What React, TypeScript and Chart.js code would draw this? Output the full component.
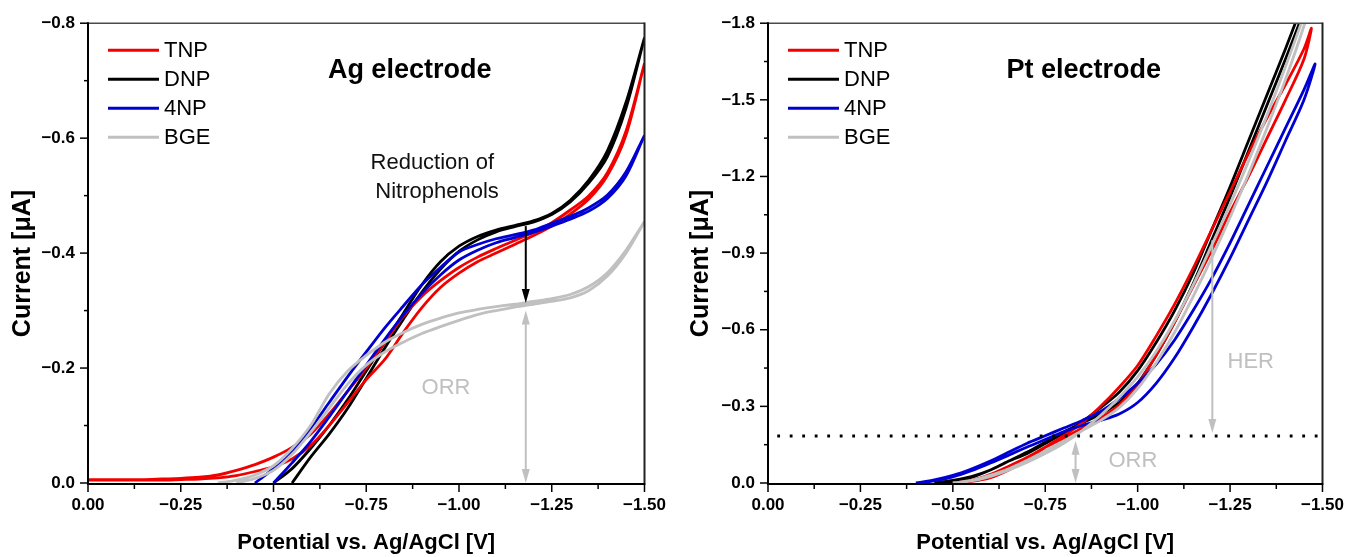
import React, { useEffect, useRef } from 'react';
import { Chart, registerables } from 'chart.js';

Chart.register(...registerables);

const FONT = "'Liberation Sans', Arial, Helvetica, sans-serif";

// Potential grid (V vs Ag/AgCl), shared by both panels
const POTENTIAL = [0, -0.05, -0.1, -0.15, -0.2, -0.25, -0.3, -0.35, -0.4, -0.45, -0.5, -0.55, -0.6, -0.65, -0.7, -0.75, -0.8, -0.85, -0.9, -0.95, -1.0, -1.05, -1.1, -1.15, -1.2, -1.25, -1.3, -1.35, -1.4, -1.45, -1.5];

// ---------- Ag electrode (current in µA), forward and return scans ----------
const AG_TNP_FWD = [-0.006, -0.006, -0.006, -0.006, -0.007, -0.008, -0.010, -0.014, -0.022, -0.032, -0.045, -0.062, -0.085, -0.120, -0.160, -0.200, -0.245, -0.290, -0.325, -0.352, -0.375, -0.393, -0.408, -0.422, -0.436, -0.453, -0.475, -0.500, -0.540, -0.612, -0.730];
const AG_TNP_REV = [-0.005, -0.005, -0.005, -0.005, -0.005, -0.006, -0.007, -0.009, -0.013, -0.020, -0.028, -0.042, -0.065, -0.100, -0.140, -0.180, -0.215, -0.262, -0.305, -0.340, -0.365, -0.385, -0.400, -0.415, -0.430, -0.447, -0.468, -0.494, -0.535, -0.605, -0.730];
const AG_DNP_FWD = [null, null, null, null, null, null, null, null, null, null, 0, -0.025, -0.060, -0.100, -0.145, -0.195, -0.245, -0.295, -0.345, -0.385, -0.412, -0.429, -0.440, -0.448, -0.456, -0.469, -0.492, -0.527, -0.578, -0.662, -0.775];
const AG_DNP_REV = [null, null, null, null, null, null, null, null, null, null, null, 0, -0.045, -0.085, -0.130, -0.182, -0.235, -0.285, -0.332, -0.372, -0.403, -0.423, -0.437, -0.446, -0.454, -0.467, -0.489, -0.522, -0.568, -0.652, -0.775];
const AG_4NP_FWD = [null, null, null, null, null, null, null, null, null, 0, -0.025, -0.055, -0.095, -0.140, -0.185, -0.228, -0.270, -0.308, -0.345, -0.375, -0.402, -0.415, -0.425, -0.432, -0.440, -0.452, -0.464, -0.479, -0.501, -0.541, -0.605];
const AG_4NP_REV = [null, null, null, null, null, null, null, null, null, null, 0, -0.035, -0.072, -0.115, -0.160, -0.205, -0.250, -0.292, -0.330, -0.362, -0.388, -0.405, -0.418, -0.427, -0.436, -0.447, -0.459, -0.473, -0.495, -0.534, -0.605];
const AG_BGE_FWD = [null, null, null, null, null, null, null, 0, -0.005, -0.014, -0.030, -0.060, -0.100, -0.155, -0.195, -0.222, -0.245, -0.262, -0.276, -0.287, -0.296, -0.302, -0.307, -0.311, -0.316, -0.321, -0.328, -0.342, -0.366, -0.405, -0.455];
const AG_BGE_REV = [null, null, null, null, null, null, null, null, 0, -0.008, -0.022, -0.050, -0.088, -0.130, -0.172, -0.205, -0.228, -0.245, -0.260, -0.272, -0.283, -0.293, -0.300, -0.306, -0.311, -0.316, -0.322, -0.335, -0.360, -0.400, -0.455];

// ---------- Pt electrode (current in µA), forward and return scans ----------
const PT_TNP_FWD = [null, null, null, null, null, null, null, null, null, null, 0, -0.006, -0.020, -0.050, -0.090, -0.140, -0.185, -0.235, -0.300, -0.375, -0.460, -0.575, -0.700, -0.840, -0.990, -1.140, -1.290, -1.430, -1.560, -1.700, null];
const PT_TNP_TURN = [-1.47, -1.78];
const PT_TNP_REV = [null, null, null, null, null, null, null, null, null, null, 0, -0.010, -0.033, -0.065, -0.100, -0.140, -0.175, -0.215, -0.255, -0.305, -0.385, -0.500, -0.630, -0.770, -0.910, -1.060, -1.200, -1.350, -1.500, -1.660, null];
const PT_DNP_FWD = [null, null, null, null, null, null, null, null, null, 0, -0.010, -0.025, -0.050, -0.085, -0.115, -0.155, -0.195, -0.240, -0.295, -0.355, -0.440, -0.550, -0.675, -0.820, -0.990, -1.160, -1.340, -1.520, -1.700, -1.890, -2.080];
const PT_DNP_REV = [null, null, null, null, null, null, null, null, null, 0, -0.005, -0.022, -0.050, -0.085, -0.120, -0.160, -0.200, -0.235, -0.270, -0.315, -0.390, -0.500, -0.630, -0.780, -0.950, -1.120, -1.300, -1.480, -1.660, -1.850, -2.080];
const PT_4NP_FWD = [null, null, null, null, null, null, null, null, 0, -0.012, -0.030, -0.055, -0.085, -0.120, -0.155, -0.185, -0.215, -0.245, -0.280, -0.330, -0.390, -0.465, -0.560, -0.675, -0.800, -0.940, -1.090, -1.240, -1.390, -1.540, null];
const PT_4NP_TURN = [-1.48, -1.64];
const PT_4NP_REV = [null, null, null, null, null, null, null, null, 0, -0.008, -0.024, -0.048, -0.077, -0.108, -0.140, -0.170, -0.200, -0.225, -0.245, -0.270, -0.315, -0.390, -0.490, -0.610, -0.740, -0.880, -1.030, -1.180, -1.340, -1.500, null];
const PT_BGE_FWD = [null, null, null, null, null, null, null, null, null, null, 0, -0.008, -0.025, -0.050, -0.080, -0.115, -0.155, -0.205, -0.265, -0.335, -0.415, -0.515, -0.635, -0.775, -0.930, -1.090, -1.260, -1.440, -1.630, -1.830, -2.030];
const PT_BGE_REV = [null, null, null, null, null, null, null, null, null, null, 0, -0.010, -0.030, -0.055, -0.088, -0.125, -0.165, -0.205, -0.245, -0.295, -0.370, -0.470, -0.590, -0.730, -0.880, -1.040, -1.210, -1.390, -1.580, -1.790, -2.030];

// ---------- series ----------
const LEGEND_ORDER = ['TNP', 'DNP', '4NP', 'BGE'];
const DRAW_ORDER = ['BGE', '4NP', 'TNP', 'DNP'];
const SERIES_COLORS: Record<string, string> = { TNP: '#f20000', DNP: '#000000', '4NP': '#0000d2', BGE: '#c0c0c0' };

// ---------- axes ----------
const X_TICK_STEP = 0.125;
const X_MAJOR_STEP = 0.25;
const AG_Y_MIN = -0.8;
const AG_Y_STEP = 0.1;
const AG_Y_MAJOR = 0.2;
const PT_Y_MIN = -1.8;
const PT_Y_STEP = 0.15;
const PT_Y_MAJOR = 0.3;
const X_TITLE = 'Potential vs. Ag/AgCl [V]';
const Y_TITLE = 'Current [\u03bcA]   ';

// ---------- annotations (data coordinates) ----------
const AG_HEADING = { text: 'Ag electrode', x: -0.867, y: -0.717 };
const PT_HEADING = { text: 'Pt electrode', x: -0.854, y: -1.616 };
const AG_NOTES = [
  { text: 'Reduction of', x: -0.928, y: -0.557, color: '#111' },
  { text: 'Nitrophenols', x: -0.941, y: -0.506, color: '#111' },
  { text: 'ORR', x: -0.965, y: -0.165, color: '#c0c0c0' },
];
const PT_NOTES = [
  { text: 'HER', x: -1.306, y: -0.473, color: '#c0c0c0' },
  { text: 'ORR', x: -0.987, y: -0.086, color: '#c0c0c0' },
];
const AG_ARROWS = [
  { x: -1.18, from: -0.447, to: -0.313, color: '#000', both: false },
  { x: -1.18, from: -0.300, to: 0, color: '#c0c0c0', both: true },
];
const PT_ARROWS = [
  { x: -1.202, from: -0.95, to: -0.196, color: '#c0c0c0', both: false },
  { x: -0.832, from: -0.165, to: 0, color: '#c0c0c0', both: true },
];
const PT_DOTTED = { y: -0.184, x1: -0.025, x2: -1.5 };

function loop(fwd: (number | null)[], rev: (number | null)[], turn?: number[]) {
  const pts: { x: number; y: number }[] = [];
  POTENTIAL.forEach((v, i) => {
    if (fwd[i] !== null) pts.push({ x: v, y: fwd[i] as number });
  });
  if (turn) pts.push({ x: turn[0], y: turn[1] });
  for (let i = POTENTIAL.length - 1; i >= 0; i--) {
    if (rev[i] !== null) pts.push({ x: POTENTIAL[i], y: rev[i] as number });
  }
  return pts;
}

const AG_LOOPS: Record<string, { x: number; y: number }[]> = {
  TNP: loop(AG_TNP_FWD, AG_TNP_REV),
  DNP: loop(AG_DNP_FWD, AG_DNP_REV),
  '4NP': loop(AG_4NP_FWD, AG_4NP_REV),
  BGE: loop(AG_BGE_FWD, AG_BGE_REV),
};
const PT_LOOPS: Record<string, { x: number; y: number }[]> = {
  TNP: loop(PT_TNP_FWD, PT_TNP_REV, PT_TNP_TURN),
  DNP: loop(PT_DNP_FWD, PT_DNP_REV),
  '4NP': loop(PT_4NP_FWD, PT_4NP_REV, PT_4NP_TURN),
  BGE: loop(PT_BGE_FWD, PT_BGE_REV),
};

const isMultiple = (v: number, step: number) => Math.abs(v / step - Math.round(v / step)) < 1e-6;
const fmt = (v: number, d: number) => (Math.abs(v) < 1e-9 ? (0).toFixed(d) : (v < 0 ? '\u2212' : '') + Math.abs(v).toFixed(d));

function arrowHead(ctx: CanvasRenderingContext2D, x: number, tipY: number, dir: number) {
  ctx.beginPath();
  ctx.moveTo(x, tipY);
  ctx.lineTo(x - 4, tipY - dir * 14);
  ctx.lineTo(x + 4, tipY - dir * 14);
  ctx.closePath();
  ctx.fill();
}

const decorPlugin = {
  id: 'decor',
  afterDatasetsDraw(chart: any, _args: any, opts: any) {
    const { ctx, chartArea: a } = chart;
    const xs = chart.scales.x;
    const ys = chart.scales.y;
    ctx.save();

    // dotted separator line
    if (opts.dotted) {
      ctx.strokeStyle = '#000';
      ctx.lineWidth = 2.8;
      ctx.setLineDash([2.8, 9.7]);
      ctx.beginPath();
      const yy = ys.getPixelForValue(opts.dotted.y);
      ctx.moveTo(xs.getPixelForValue(opts.dotted.x1), yy);
      ctx.lineTo(xs.getPixelForValue(opts.dotted.x2), yy);
      ctx.stroke();
      ctx.setLineDash([]);
    }

    // arrows
    for (const ar of opts.arrows || []) {
      const px = xs.getPixelForValue(ar.x);
      const y1 = ys.getPixelForValue(ar.from);
      const y2 = ys.getPixelForValue(ar.to);
      const dir = y2 > y1 ? 1 : -1;
      ctx.strokeStyle = ar.color;
      ctx.fillStyle = ar.color;
      ctx.lineWidth = 2;
      ctx.beginPath();
      ctx.moveTo(px, ar.both ? y1 + dir * 8 : y1);
      ctx.lineTo(px, y2 - dir * 8);
      ctx.stroke();
      arrowHead(ctx, px, y2, dir);
      if (ar.both) arrowHead(ctx, px, y1, -dir);
    }

    // notes
    ctx.textAlign = 'center';
    ctx.textBaseline = 'middle';
    for (const n of opts.notes || []) {
      ctx.fillStyle = n.color;
      ctx.font = `22px ${FONT}`;
      ctx.fillText(n.text, xs.getPixelForValue(n.x), ys.getPixelForValue(n.y));
    }
    if (opts.heading) {
      ctx.fillStyle = '#000';
      ctx.font = `bold 27px ${FONT}`;
      ctx.fillText(opts.heading.text, xs.getPixelForValue(opts.heading.x), ys.getPixelForValue(opts.heading.y));
    }

    // legend
    const order: string[] = opts.legendOrder || [];
    order.forEach((label, i) => {
      const ds = chart.data.datasets.find((d: any) => d.label === label);
      if (!ds) return;
      const yy = a.top + 27 + i * 29;
      ctx.strokeStyle = ds.borderColor;
      ctx.lineWidth = 3;
      ctx.beginPath();
      ctx.moveTo(a.left + 20, yy);
      ctx.lineTo(a.left + 71, yy);
      ctx.stroke();
      ctx.fillStyle = '#000';
      ctx.font = `22px ${FONT}`;
      ctx.textAlign = 'left';
      ctx.fillText(label, a.left + 76, yy + 1);
    });

    // frame
    ctx.lineCap = 'butt';
    ctx.strokeStyle = '#4a4a4a';
    ctx.lineWidth = 1.5;
    ctx.beginPath();
    ctx.moveTo(a.left, a.top);
    ctx.lineTo(a.right, a.top);
    ctx.stroke();
    ctx.strokeStyle = '#222';
    ctx.lineWidth = 2;
    ctx.beginPath();
    ctx.moveTo(a.right, a.top - 0.75);
    ctx.lineTo(a.right, a.bottom);
    ctx.stroke();
    ctx.strokeStyle = '#000';
    ctx.lineWidth = 2;
    ctx.beginPath();
    ctx.moveTo(a.left, a.top - 1);
    ctx.lineTo(a.left, a.bottom + 1);
    ctx.lineTo(a.right + 1, a.bottom + 1);
    ctx.stroke();

    // ticks (outward)
    ctx.lineWidth = 1.5;
    for (const t of xs.ticks) {
      const px = xs.getPixelForValue(t.value);
      const len = isMultiple(t.value, opts.xMajor) ? 8 : 5;
      ctx.beginPath();
      ctx.moveTo(px, a.bottom + 1);
      ctx.lineTo(px, a.bottom + 1 + len);
      ctx.stroke();
    }
    for (const t of ys.ticks) {
      const py = ys.getPixelForValue(t.value);
      const len = isMultiple(t.value, opts.yMajor) ? 8 : 4;
      ctx.beginPath();
      ctx.moveTo(a.left, py);
      ctx.lineTo(a.left - len, py);
      ctx.stroke();
    }
    ctx.restore();
  },
};

type PanelCfg = {
  loops: Record<string, { x: number; y: number }[]>;
  yMin: number;
  yStep: number;
  yMajor: number;
  yWidth: number;
  padRight: number;
  heading: any;
  notes: any[];
  arrows: any[];
  dotted: any;
};

function Panel({ cfg, left }: { cfg: PanelCfg; left: number }) {
  const ref = useRef<HTMLCanvasElement>(null);
  useEffect(() => {
    const tickFont = { family: FONT, size: 17, weight: 'bold' as const };
    const datasets = DRAW_ORDER.map((label) => ({
      label,
      data: cfg.loops[label],
      showLine: true,
      borderColor: SERIES_COLORS[label],
      backgroundColor: SERIES_COLORS[label],
      borderWidth: 2.8,
      pointRadius: 0,
      tension: 0.3,
      fill: false,
    }));
    const chart = new Chart(ref.current as HTMLCanvasElement, {
      type: 'scatter',
      data: { datasets },
      options: {
        responsive: false,
        animation: false,
        devicePixelRatio: 1,
        layout: { padding: { top: 23, right: cfg.padRight, left: 0, bottom: 0 } },
        plugins: {
          legend: { display: false },
          tooltip: { enabled: false },
          decor: {
            heading: cfg.heading,
            notes: cfg.notes,
            arrows: cfg.arrows,
            dotted: cfg.dotted,
            legendOrder: LEGEND_ORDER,
            xMajor: X_MAJOR_STEP,
            yMajor: cfg.yMajor,
          },
        } as any,
        scales: {
          x: {
            type: 'linear',
            min: -1.5,
            max: 0,
            reverse: true,
            afterFit: (s: any) => {
              s.height = 74;
            },
            grid: { display: false, drawTicks: false },
            border: { display: false },
            ticks: {
              stepSize: X_TICK_STEP,
              autoSkip: false,
              maxRotation: 0,
              padding: 12,
              color: '#000',
              font: tickFont,
              callback: (v: any) => (isMultiple(Number(v), X_MAJOR_STEP) ? fmt(Number(v), 2) : ''),
            },
            title: {
              display: true,
              text: X_TITLE,
              color: '#000',
              font: { family: FONT, size: 22, weight: 'bold' },
              padding: { top: 0, bottom: 1 },
            },
          },
          y: {
            type: 'linear',
            min: cfg.yMin,
            max: 0,
            reverse: true,
            afterFit: (s: any) => {
              s.width = cfg.yWidth;
            },
            grid: { display: false, drawTicks: false },
            border: { display: false },
            ticks: {
              stepSize: cfg.yStep,
              autoSkip: false,
              padding: 13,
              color: '#000',
              font: tickFont,
              callback: (v: any) => (isMultiple(Number(v), cfg.yMajor) ? fmt(Number(v), 1) : ''),
            },
            title: {
              display: true,
              text: Y_TITLE,
              color: '#000',
              font: { family: FONT, size: 25, weight: 'bold' },
              padding: { top: 8, bottom: 0 },
            },
          },
        },
      },
      plugins: [decorPlugin],
    });
    return () => chart.destroy();
  }, [cfg]);
  return (
    <canvas
      ref={ref}
      width={678}
      height={557}
      style={{ position: 'absolute', left, top: 0, width: 678, height: 557 }}
    />
  );
}

const AG_CFG: PanelCfg = {
  loops: AG_LOOPS,
  yMin: AG_Y_MIN,
  yStep: AG_Y_STEP,
  yMajor: AG_Y_MAJOR,
  yWidth: 88,
  padRight: 26,
  heading: AG_HEADING,
  notes: AG_NOTES,
  arrows: AG_ARROWS,
  dotted: null,
};
const PT_CFG: PanelCfg = {
  loops: PT_LOOPS,
  yMin: PT_Y_MIN,
  yStep: PT_Y_STEP,
  yMajor: PT_Y_MAJOR,
  yWidth: 90,
  padRight: 24,
  heading: PT_HEADING,
  notes: PT_NOTES,
  arrows: PT_ARROWS,
  dotted: PT_DOTTED,
};

export default function App() {
  return (
    <div style={{ position: 'absolute', left: 0, top: 0, width: 1356, height: 557, background: '#fff', overflow: 'hidden' }}>
      <Panel cfg={AG_CFG} left={0} />
      <Panel cfg={PT_CFG} left={678} />
    </div>
  );
}
